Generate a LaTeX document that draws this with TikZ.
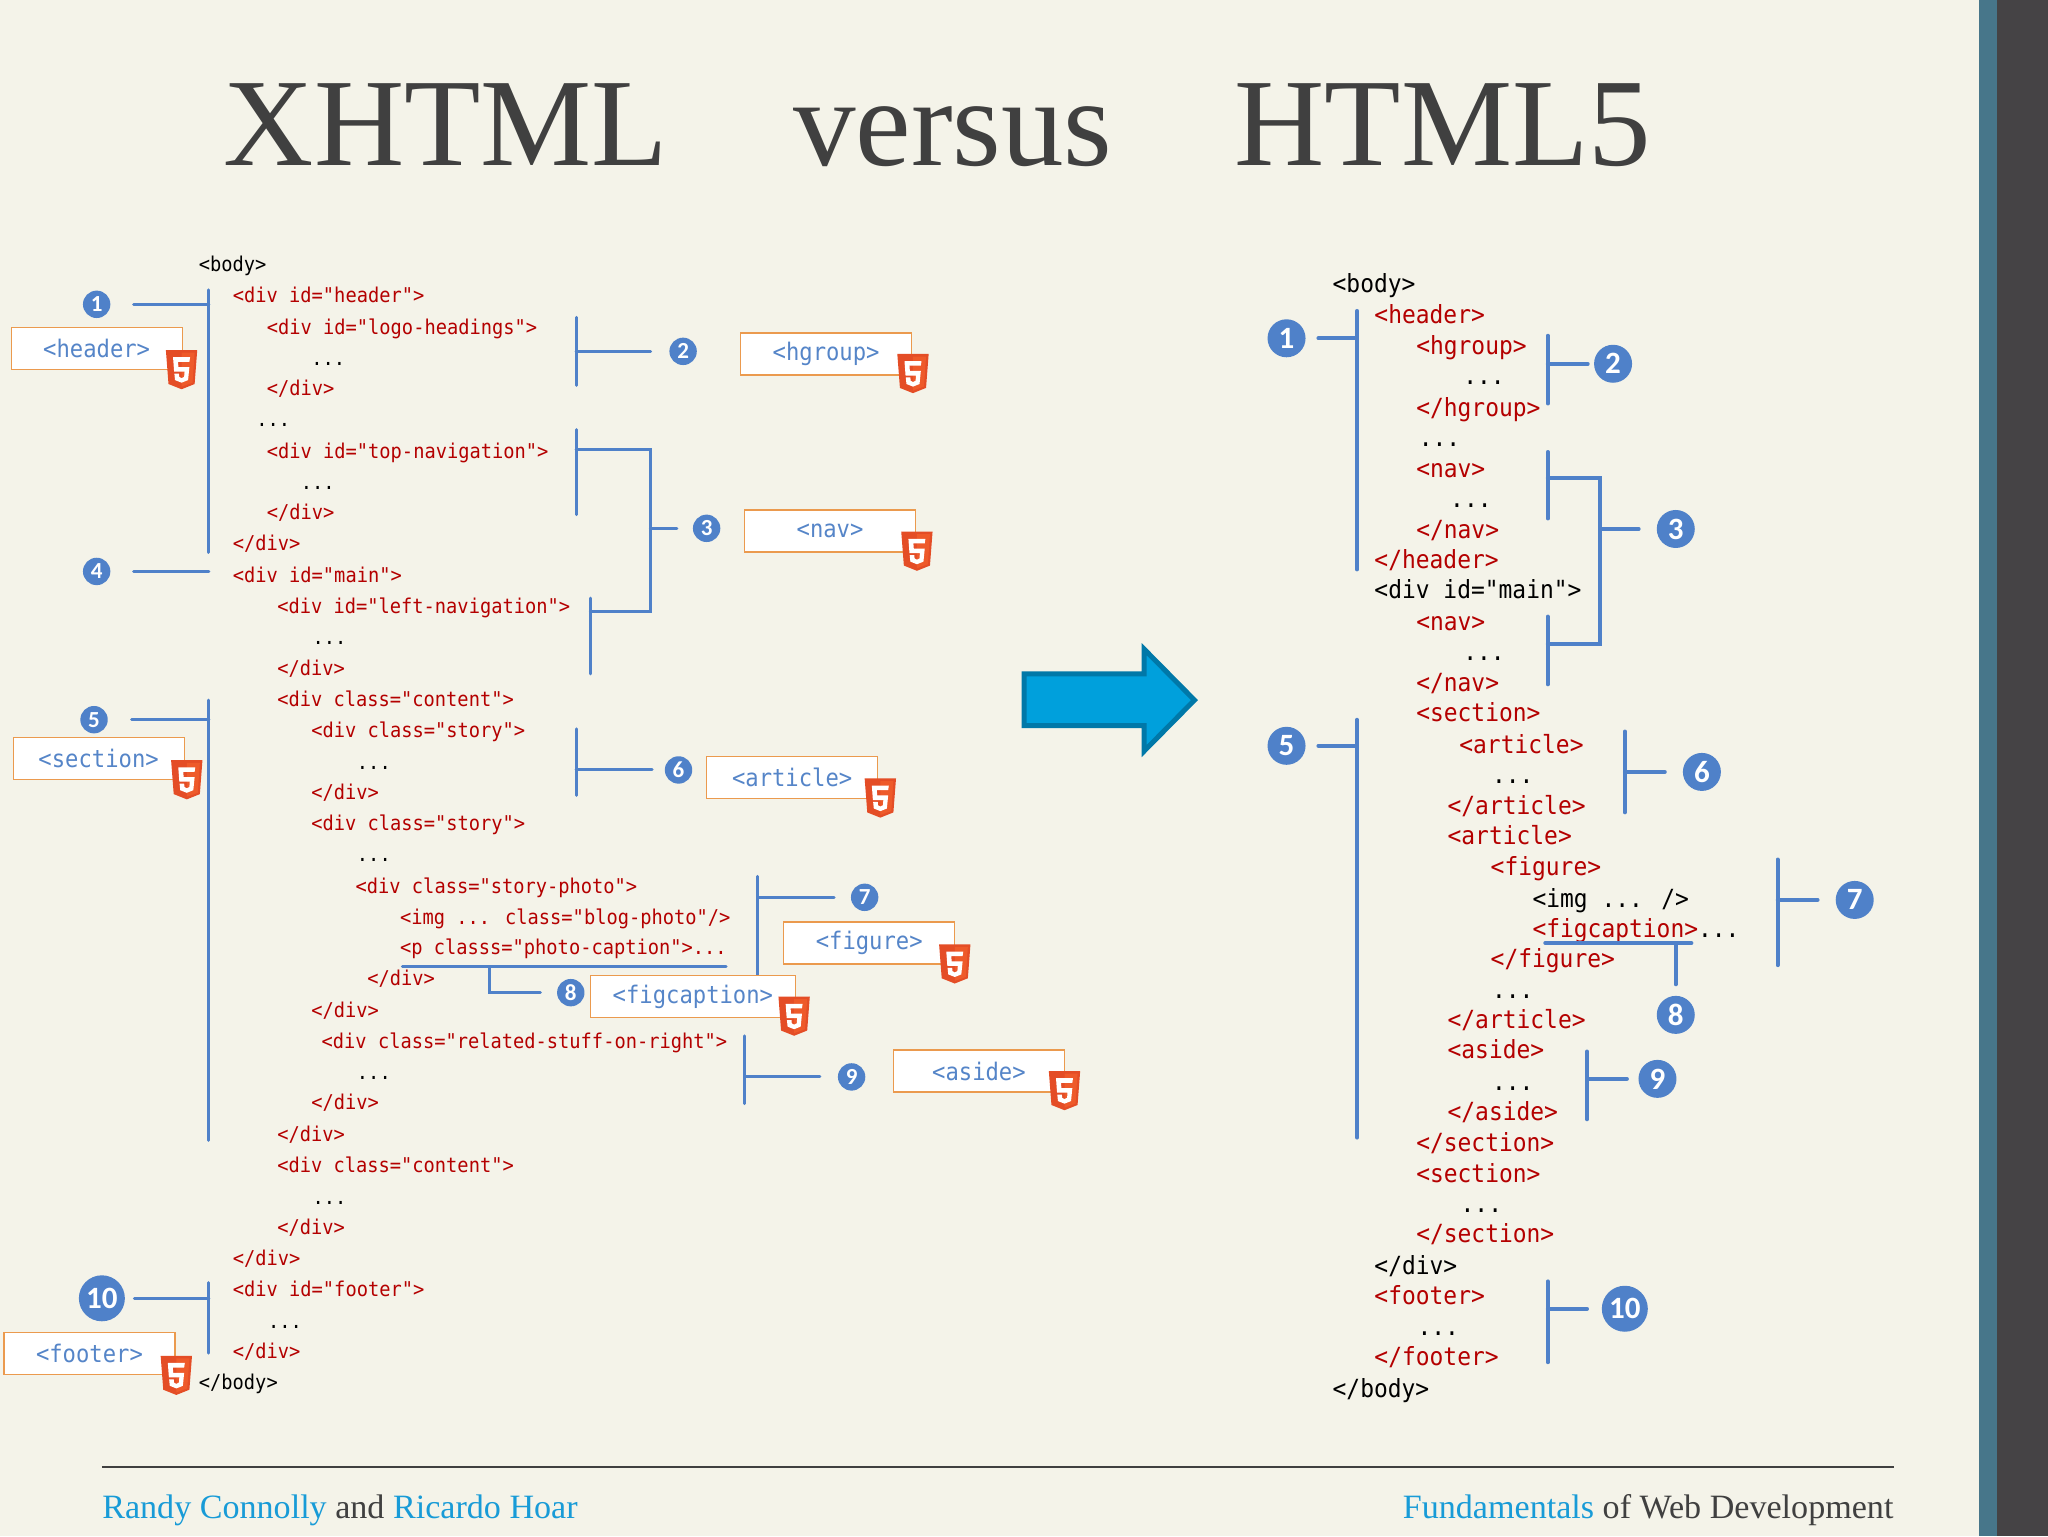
\documentclass[tikz,border=0pt]{standalone}
\usepackage{fontspec}
\setmainfont{Liberation Serif}
\newfontfamily\codefont[FakeStretch=0.917]{DejaVu Sans Mono}
\newfontfamily\badgefont{Carlito}
\definecolor{paper}{HTML}{F4F3E9}
\definecolor{inkgrey}{HTML}{404040}
\definecolor{codered}{HTML}{B40000}
\definecolor{linkblue}{HTML}{4F81C9}
\definecolor{tagblue}{HTML}{5585C8}
\definecolor{tagorange}{HTML}{EB9A4E}
\definecolor{footblue}{HTML}{189BD7}
\definecolor{arrowfill}{HTML}{00A0DC}
\definecolor{arrowedge}{HTML}{0078A8}
\definecolor{bandblue}{HTML}{47768A}
\definecolor{banddark}{HTML}{454345}
\definecolor{shieldA}{HTML}{E44D26}
\definecolor{shieldB}{HTML}{EE5A2A}
\tikzset{
  lc/.style={font=\codefont\fontsize{10.2}{12}\selectfont,anchor=west,inner sep=0pt,text height=8.6pt,text depth=1pt,text=black},
  rc/.style={font=\codefont\fontsize{12.5}{14}\selectfont,anchor=west,inner sep=0pt,text height=10.1pt,text depth=1.5pt,text=black},
  cr/.style={text=codered},
  lb/.style={draw=linkblue,line width=1.5pt,line cap=round,line join=miter},
  rb/.style={draw=linkblue,line width=1.9pt,line cap=round,line join=miter},
  gap/.style={shorten <=#1*0.65306pt},
  badge/.style={circle,fill=linkblue,text=white,inner sep=0pt,minimum size=13.7pt,font=\badgefont\bfseries\fontsize{11.5}{12}\selectfont},
  bigbadge/.style={badge,minimum size=19pt,font=\badgefont\bfseries\fontsize{15.5}{16}\selectfont},
  tenbadge/.style={badge,minimum size=23pt,font=\badgefont\bfseries\fontsize{15.5}{16}\selectfont},
  tagbox/.style={draw=tagorange,line width=0.6pt,fill=white,text=tagblue,inner sep=0pt,minimum width=85.5pt,minimum height=21pt,font=\codefont\fontsize{12.1}{14}\selectfont},
  titletext/.style={anchor=base west,inner sep=0pt,text=inkgrey,font=\fontsize{62.5}{70}\selectfont},
  foottext/.style={inner sep=0pt,text=inkgrey,font=\fontsize{17.05}{20}\selectfont},
  htmlfive/.pic={
    \fill[shieldA] (-12,-15)--(12,-15)--(10,11)--(0,15)--(-10,11)--cycle;
    \fill[shieldB] (0,-13)--(10,-13)--(8.4,10)--(0,13)--cycle;
    \fill[white] (-6.5,-9.5)--(6.5,-9.5)--(6,-6)--(-2.7,-6)--(-2.4,-2)--(6,-2)--(5,8)--(0,10)--(-5,8)--(-5.5,3)--(-2,3)--(-1.8,5.5)--(0,6.5)--(2,5.5)--(2.3,1.5)--(-5.7,1.5)--cycle;
  }
}
\begin{document}
\begin{tikzpicture}[x=0.65306pt,y=-0.65306pt]
\useasboundingbox (0,0) rectangle (1568,1176);
\fill[paper] (0,0) rectangle (1568,1176);
\fill[bandblue] (1515.3,0) rectangle (1529,1176);
\fill[banddark] (1529,0) rectangle (1568,1176);
% title
\node[titletext] (t1) at (171,127) {XHTML};
\node[titletext] (t2) at (607,127) {versus};
\node[titletext] (t3) at (945,127) {HTML5};
% footer
\coordinate (fl) at (78,1123);
\coordinate (fr) at (1450,1123);
\draw[inkgrey,line width=1.1pt] (fl) -- (fr);
\node[foottext,anchor=base west] (f1) at (78,1162.5) {\textcolor{footblue}{Randy Connolly} and \textcolor{footblue}{Ricardo Hoar}};
\node[foottext,anchor=base east] (f2) at (1450,1162.5) {\textcolor{footblue}{Fundamentals} of Web Development};
% left code
\node[lc] (l1) at (152,202) {<body>};
\node[lc,cr] (l2) at (178,226) {<div id="header">};
\node[lc,cr] (l3) at (204,250) {<div id="logo-headings">};
\node[lc] (l4) at (238,274) {...};
\node[lc,cr] (l5) at (204,297) {</div>};
\node[lc] (l6) at (196,321) {...};
\node[lc,cr] (l7) at (204,345) {<div id="top-navigation">};
\node[lc] (l8) at (230,369) {...};
\node[lc,cr] (l9) at (204,392) {</div>};
\node[lc,cr] (l10) at (178,416) {</div>};
\node[lc,cr] (l11) at (178,440) {<div id="main">};
\node[lc,cr] (l12) at (212,464) {<div id="left-navigation">};
\node[lc] (l13) at (239,488) {...};
\node[lc,cr] (l14) at (212,511) {</div>};
\node[lc,cr] (l15) at (212,535) {<div class="content">};
\node[lc,cr] (l16) at (238,559) {<div class="story">};
\node[lc] (l17) at (273,583) {...};
\node[lc,cr] (l18) at (238,606) {</div>};
\node[lc,cr] (l19) at (238,630) {<div class="story">};
\node[lc] (l20) at (273,654) {...};
\node[lc,cr] (l21) at (272,678) {<div class="story-photo">};
\node[lc,cr] (l22) at (306,702) {<img ... class="blog-photo"/>};
\node[lc,cr] (l23) at (306,725) {<p classs="photo-caption">...};
\node[lc,cr] (l24) at (281,749) {</div>};
\node[lc,cr] (l25) at (238,773) {</div>};
\node[lc,cr] (l26) at (246,797) {<div class="related-stuff-on-right">};
\node[lc] (l27) at (273,821) {...};
\node[lc,cr] (l28) at (238,844) {</div>};
\node[lc,cr] (l29) at (212,868) {</div>};
\node[lc,cr] (l30) at (212,892) {<div class="content">};
\node[lc] (l31) at (239,916) {...};
\node[lc,cr] (l32) at (212,939) {</div>};
\node[lc,cr] (l33) at (178,963) {</div>};
\node[lc,cr] (l34) at (178,987) {<div id="footer">};
\node[lc] (l35) at (205,1011) {...};
\node[lc,cr] (l36) at (178,1034) {</div>};
\node[lc] (l37) at (152,1058) {</body>};
% right code
\node[rc] (r1) at (1020,217) {<body>};
\node[rc,cr] (r2) at (1052,241) {<header>};
\node[rc,cr] (r3) at (1084,265) {<hgroup>};
\node[rc] (r4) at (1120,288) {...};
\node[rc,cr] (r5) at (1084,312) {</hgroup>};
\node[rc] (r6) at (1086,335) {...};
\node[rc,cr] (r7) at (1084,359) {<nav>};
\node[rc] (r8) at (1110,382) {...};
\node[rc,cr] (r9) at (1084,406) {</nav>};
\node[rc,cr] (r10) at (1052,429) {</header>};
\node[rc] (r11) at (1052,452) {<div id="main">};
\node[rc,cr] (r12) at (1084,476) {<nav>};
\node[rc] (r13) at (1120,499) {...};
\node[rc,cr] (r14) at (1084,523) {</nav>};
\node[rc,cr] (r15) at (1084,546) {<section>};
\node[rc,cr] (r16) at (1117,570) {<article>};
\node[rc] (r17) at (1142,593) {...};
\node[rc,cr] (r18) at (1108,617) {</article>};
\node[rc,cr] (r19) at (1108,640) {<article>};
\node[rc,cr] (r20) at (1141,664) {<figure>};
\node[rc] (r21) at (1173,688) {<img ... />};
\node[rc,cr] (r22) at (1173,711) {<figcaption>\textcolor{black}{...}};
\node[rc,cr] (r23) at (1141,734) {</figure>};
\node[rc] (r24) at (1142,758) {...};
\node[rc,cr] (r25) at (1108,781) {</article>};
\node[rc,cr] (r26) at (1108,804) {<aside>};
\node[rc] (r27) at (1142,828) {...};
\node[rc,cr] (r28) at (1108,851) {</aside>};
\node[rc,cr] (r29) at (1084,875) {</section>};
\node[rc,cr] (r30) at (1084,899) {<section>};
\node[rc] (r31) at (1118,922) {...};
\node[rc,cr] (r32) at (1084,945) {</section>};
\node[rc] (r33) at (1052,969) {</div>};
\node[rc,cr] (r34) at (1052,992) {<footer>};
\node[rc] (r35) at (1085,1016) {...};
\node[rc,cr] (r36) at (1052,1039) {</footer>};
\node[rc] (r37) at (1020,1063) {</body>};
% left badges
\node[badge] (a1) at (74,233) {1};
\node[badge] (a2) at (523,269) {2};
\node[badge] (a3) at (541,404.5) {3};
\node[badge] (a4) at (74,437.5) {4};
\node[badge] (a5) at (72,551) {5};
\node[badge] (a6) at (519.5,589.5) {6};
\node[badge] (a7) at (662,687) {7};
\node[badge] (a8) at (437,760) {8};
\node[badge] (a9) at (652,824.5) {9};
\node[tenbadge,minimum size=23pt] (a10) at (78,994) {10};
% left brackets
\coordinate (s1t) at (160,222); \coordinate (s1b) at (160,423);
\draw[lb] (s1t) -- (s1b);
\draw[lb,gap=17.5] (a1) -- (a1 -| s1t);
\draw[lb,gap=17.5] (a4) -- (a4 -| s1t);
\coordinate (s5t) at (160,536); \coordinate (s5b) at (160,873);
\draw[lb] (s5t) -- (s5b);
\draw[lb,gap=18] (a5) -- (a5 -| s5t);
\coordinate (s10t) at (160,982); \coordinate (s10b) at (160,1036);
\draw[lb] (s10t) -- (s10b);
\draw[lb,gap=7] (a10) -- (a10 -| s10t);
\coordinate (s2t) at (441,243); \coordinate (s2b) at (441,295);
\draw[lb] (s2t) -- (s2b);
\draw[lb,gap=14] (a2) -- (a2 -| s2t);
\coordinate (s3t) at (441,329); \coordinate (s3b) at (441,394);
\coordinate (s3u) at (441,344); \coordinate (s3v) at (452,468);
\coordinate (s3c) at (498,404);
\coordinate (s3lt) at (452,458); \coordinate (s3lb) at (452,516);
\draw[lb] (s3t) -- (s3b);
\draw[lb] (s3lt) -- (s3lb);
\draw[lb] (s3u) -- (s3u -| s3c) -- (s3v -| s3c) -- (s3v);
\draw[lb,gap=12] (a3) -- (a3 -| s3c);
\coordinate (s6t) at (441,558); \coordinate (s6b) at (441,609);
\draw[lb] (s6t) -- (s6b);
\draw[lb,gap=9.5] (a6) -- (a6 -| s6t);
\coordinate (s7t) at (580,671); \coordinate (s7b) at (580,748);
\draw[lb] (s7t) -- (s7b);
\draw[lb,gap=12.5] (a7) -- (a7 -| s7t);
\coordinate (s8l) at (308,740); \coordinate (s8r) at (556,740); \coordinate (s8k) at (375,740);
\draw[lb] (s8l) -- (s8r);
\draw[lb,gap=12.5] (a8) -- (a8 -| s8k) -- (s8k);
\coordinate (s9t) at (570,793); \coordinate (s9b) at (570,845);
\draw[lb] (s9t) -- (s9b);
\draw[lb,gap=13.5] (a9) -- (a9 -| s9t);
% tags
\node[tagbox] (h1) at (74,267) {<header>};
\pic at (139,283) {htmlfive};
\node[tagbox] (h2) at (632.5,271) {<hgroup>};
\pic at (699,286) {htmlfive};
\node[tagbox] (h3) at (635.5,406.5) {<nav>};
\pic at (702,422) {htmlfive};
\node[tagbox] (h5) at (75.5,581) {<section>};
\pic at (143,597) {htmlfive};
\node[tagbox] (h6) at (606.5,595) {<article>};
\pic at (674,611) {htmlfive};
\node[tagbox] (h7) at (665.5,722) {<figure>};
\pic at (731,738) {htmlfive};
\node[tagbox,minimum width=102.5pt] (h8) at (530.5,763) {<figcaption>};
\pic at (608,778) {htmlfive};
\node[tagbox] (h9) at (749.5,820) {<aside>};
\pic at (815,835) {htmlfive};
\node[tagbox] (h10) at (68.5,1036) {<footer>};
\pic at (135,1053) {htmlfive};
% arrow
\draw[fill=arrowfill,draw=arrowedge,line width=2.5pt,miter limit=10]
  (784,516)--(876,516)--(876,497)--(914.5,536)--(876,575)--(876,555.6)--(784,555.6)--cycle;
% right badges
\node[bigbadge] (b1) at (985,259) {1};
\node[bigbadge] (b2) at (1235,278.5) {2};
\node[bigbadge] (b3) at (1283,405) {3};
\node[bigbadge] (b5) at (985,571) {5};
\node[bigbadge] (b6) at (1303,591) {6};
\node[bigbadge] (b7) at (1420,689) {7};
\node[bigbadge] (b8) at (1283,777) {8};
\node[bigbadge] (b9) at (1269,826) {9};
\node[tenbadge] (b10) at (1244,1002) {10};
% right brackets
\coordinate (q1t) at (1039,238); \coordinate (q1b) at (1039,436);
\draw[rb] (q1t) -- (q1b);
\draw[rb,gap=9.5] (b1) -- (b1 -| q1t);
\coordinate (q2t) at (1185,257); \coordinate (q2b) at (1185,309);
\draw[rb] (q2t) -- (q2b);
\draw[rb,gap=4.5] (b2) -- (b2 -| q2t);
\coordinate (q3t) at (1185,346); \coordinate (q3b) at (1185,397);
\coordinate (q3lt) at (1185,472); \coordinate (q3lb) at (1185,524);
\coordinate (q3u) at (1185,366); \coordinate (q3v) at (1185,493); \coordinate (q3c) at (1225,405);
\draw[rb] (q3t) -- (q3b);
\draw[rb] (q3lt) -- (q3lb);
\draw[rb] (q3u) -- (q3u -| q3c) -- (q3v -| q3c) -- (q3v);
\draw[rb,gap=13.5] (b3) -- (b3 -| q3c);
\coordinate (q5t) at (1039,551); \coordinate (q5b) at (1039,871);
\draw[rb] (q5t) -- (q5b);
\draw[rb,gap=9.5] (b5) -- (b5 -| q5t);
\coordinate (q6t) at (1244,560); \coordinate (q6b) at (1244,622);
\draw[rb] (q6t) -- (q6b);
\draw[rb,gap=13.5] (b6) -- (b6 -| q6t);
\coordinate (q7t) at (1361,658); \coordinate (q7b) at (1361,739);
\draw[rb] (q7t) -- (q7b);
\draw[rb,gap=13.5] (b7) -- (b7 -| q7t);
\coordinate (q8l) at (1183,722); \coordinate (q8r) at (1295,722); \coordinate (q8k) at (1283,722);
\draw[rb] (q8l) -- (q8r);
\draw[rb,gap=8.5] (b8) -- (q8k);
\coordinate (q9t) at (1215,805); \coordinate (q9b) at (1215,857);
\draw[rb] (q9t) -- (q9b);
\draw[rb,gap=8.5] (b9) -- (b9 -| q9t);
\coordinate (q10t) at (1185,981); \coordinate (q10b) at (1185,1043);
\draw[rb] (q10t) -- (q10b);
\draw[rb,gap=11] (b10) -- (b10 -| q10t);
\end{tikzpicture}
\end{document}
